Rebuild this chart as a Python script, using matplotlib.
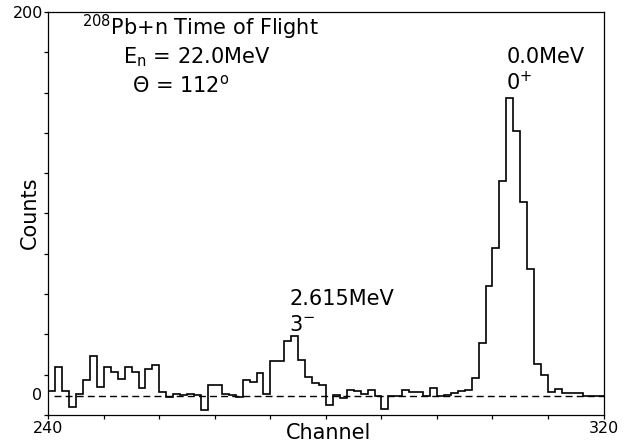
#!/usr/bin/env python3

import matplotlib
matplotlib.use('Agg')

import matplotlib.pyplot as plt
import numpy as np


FIRST_CHANNEL = 240
LAST_CHANNEL = 320

# counts per channel, channels 240 .. 319
counts = [
    2.5, 15, 2.5, -6, 1, 8, 21, 4.7, 15, 12.3,          # 240-249
    9, 15, 12.3, 4, 14.2, 16.3, 2.1, -0.7, 1, 0.3,      # 250-259
    0.8, 0.2, -7.5, 5.5, 5.5, 1, 0.5, -0.5, 8, 7,       # 260-269
    12, 0.8, 18, 18, 28.5, 31, 18.5, 10, 6.9, 5.7,      # 270-279
    -5, 0.5, -1, 3, 2.5, 0.8, 3, 0, -7, 0,              # 280-289
    0, 2.9, 2.1, 2.1, 0, 3.9, 0, 0.5, 1.5, 2.5,         # 290-299
    3, 9.4, 27.3, 57, 77, 112, 155, 138, 101, 66,       # 300-309
    16.8, 10.6, 1.9, 3.3, 1.6, 1.6, 1.6, 0, 0, 0,       # 310-319
]

x_tick_labels = ['240'] + [''] * 9 + ['320']
y_min, y_max = -10, 200

title_text = r'$^{208}$Pb+n Time of Flight'
energy_text = r'E$_{\rm n}$ = 22.0MeV'
angle_text = r'$\Theta$ = 112$^{\rm o}$'
peak_labels = [
    # (x, y, energy, spin)
    (274.8, 47.4, '2.615MeV', r'3$^{-}$'),
    (306.0, 173.3, '0.0MeV', r'0$^{+}$'),
]


def plot_spectrum(output_name):
    plt.rcParams['font.family'] = ['DejaVu Sans']
    plt.rcParams['mathtext.fontset'] = 'dejavusans'

    fig = plt.figure(figsize=(6.3, 4.44), dpi=100)
    ax = fig.add_axes([0.0767, 0.0653, 0.8813, 0.9077])

    edges = np.arange(FIRST_CHANNEL, LAST_CHANNEL + 1)
    ax.stairs(counts, edges, baseline=None, color='black', linewidth=1.2)
    ax.plot([FIRST_CHANNEL + 0.8, LAST_CHANNEL], [0, 0], color='black',
            linewidth=1.0, dashes=(5, 3))

    ax.set_xlim(FIRST_CHANNEL, LAST_CHANNEL)
    ax.set_ylim(y_min, y_max)

    ax.set_xticks(np.linspace(FIRST_CHANNEL, LAST_CHANNEL, 11))
    ax.set_xticklabels(x_tick_labels, fontsize=11.5)
    ax.set_yticks(np.linspace(y_min, y_max, 11))
    ax.set_yticklabels([''] * 10 + ['200'], fontsize=11.5)
    ax.tick_params(direction='out', length=3, width=0.9, pad=1)
    ax.text(FIRST_CHANNEL - 0.9, 0, '0', fontsize=11.5, ha='right', va='center')

    for spine in ax.spines.values():
        spine.set_linewidth(0.9)

    # axis titles placed by hand, the frame fills almost the whole figure
    fig.text(0.521, 0.002, 'Channel', fontsize=15, ha='center', va='bottom')
    fig.text(0.048, 0.52, 'Counts', fontsize=15, rotation=90,
             ha='center', va='center')

    ax.text(244.9, 188, title_text, fontsize=15, ha='left', va='baseline')
    ax.text(250.8, 173, energy_text, fontsize=15, ha='left', va='baseline')
    ax.text(252.0, 158, angle_text, fontsize=15, ha='left', va='baseline')

    for x, y, energy, spin in peak_labels:
        ax.text(x, y, energy, fontsize=15, ha='left', va='baseline')
        ax.text(x - 0.1, y - 13.8, spin, fontsize=15, ha='left',
                va='baseline')

    fig.savefig(output_name, dpi=100)
    plt.close(fig)


def main():
    plot_spectrum('out.png')


if __name__ == "__main__":
    main()
